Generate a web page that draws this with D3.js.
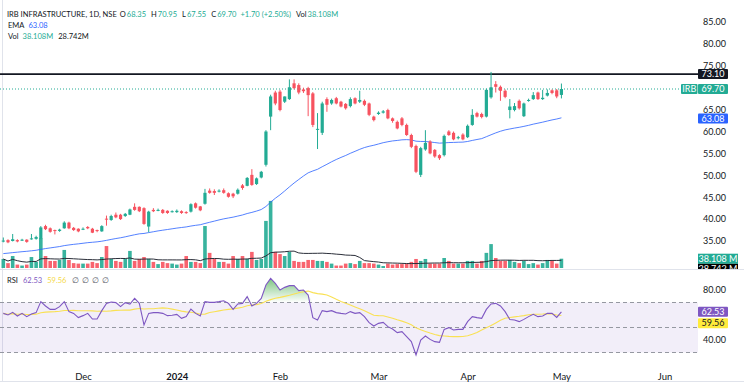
<!DOCTYPE html>
<html><head><meta charset="utf-8">
<script src="https://cdn.jsdelivr.net/npm/d3@7"></script>
<style>body{margin:0;background:#fff;} svg{display:block;font-family:Lato,"Noto Sans",sans-serif;}</style>
</head><body><svg id="c" width="744" height="385"></svg>
<script>
// ---------------- DATA ----------------
const dates = [
"2023-11-07","2023-11-08","2023-11-09","2023-11-10","2023-11-12","2023-11-13","2023-11-15","2023-11-16","2023-11-17","2023-11-20",
"2023-11-21","2023-11-22","2023-11-23","2023-11-24","2023-11-28","2023-11-29","2023-11-30",
"2023-12-01","2023-12-04","2023-12-05","2023-12-06","2023-12-07","2023-12-08","2023-12-11","2023-12-12","2023-12-13","2023-12-14",
"2023-12-15","2023-12-18","2023-12-19","2023-12-20","2023-12-21","2023-12-22","2023-12-26","2023-12-27","2023-12-28","2023-12-29",
"2024-01-01","2024-01-02","2024-01-03","2024-01-04","2024-01-05","2024-01-08","2024-01-09","2024-01-10","2024-01-11","2024-01-12",
"2024-01-15","2024-01-16","2024-01-17","2024-01-18","2024-01-19","2024-01-20","2024-01-23","2024-01-24","2024-01-25","2024-01-29",
"2024-01-30","2024-01-31",
"2024-02-01","2024-02-02","2024-02-05","2024-02-06","2024-02-07","2024-02-08","2024-02-09","2024-02-12","2024-02-13","2024-02-14",
"2024-02-15","2024-02-16","2024-02-19","2024-02-20","2024-02-21","2024-02-22","2024-02-23","2024-02-26","2024-02-27","2024-02-28",
"2024-02-29",
"2024-03-01","2024-03-02","2024-03-04","2024-03-05","2024-03-06","2024-03-07","2024-03-11","2024-03-12","2024-03-13","2024-03-14",
"2024-03-15","2024-03-18","2024-03-19","2024-03-20","2024-03-21","2024-03-22","2024-03-26","2024-03-27","2024-03-28",
"2024-04-01","2024-04-02","2024-04-03","2024-04-04","2024-04-05","2024-04-08","2024-04-09","2024-04-10","2024-04-12","2024-04-15",
"2024-04-16","2024-04-18","2024-04-19","2024-04-22","2024-04-23","2024-04-24","2024-04-25","2024-04-26","2024-04-29","2024-04-30",
"2024-05-02"];

const open = [34.9,35.2,35.0,35.2,35.1,35.3,35.4,35.5,35.6,38.4,37.9,37.5,37.3,37.9,39.2,38.0,37.8,37.7,38.2,37.8,
37.5,37.2,40.1,39.8,41.0,41.0,40.7,41.0,42.8,42.8,42.5,38.3,42.1,42.0,42.1,41.9,41.7,41.6,41.8,41.6,
41.7,43.6,42.9,43.5,46.5,46.4,46.4,46.6,45.9,45.8,45.8,47.7,47.6,50.1,48.0,49.5,52.4,63.4,68.9,69.1,
66.8,67.4,71.0,70.6,69.6,69.9,68.7,60.4,59.7,67.4,66.4,67.6,66.8,66.3,65.8,67.6,66.8,67.0,66.4,63.4,
64.0,64.3,64.9,63.0,62.2,63.0,61.5,59.2,56.7,50.1,55.9,57.7,55.8,54.6,54.6,60.0,59.7,58.5,59.3,58.7,
61.5,64.2,64.0,63.4,67.8,70.8,70.2,69.3,64.9,64.9,67.0,63.5,67.0,67.4,68.9,67.4,68.2,69.4,69.4,68.35];
const high = [35.8,35.4,36.6,35.4,35.5,35.4,36.6,36.2,38.4,38.7,38.1,37.6,37.8,39.5,39.4,38.2,37.9,38.1,38.4,38.0,
37.6,38.6,40.8,41.0,41.5,41.2,41.4,42.4,43.6,42.9,42.7,41.9,42.5,42.4,42.3,42.0,42.0,42.2,42.0,41.8,
43.6,43.8,43.0,46.9,47.0,46.8,46.8,47.0,46.1,46.0,47.0,48.0,49.6,51.4,49.5,51.0,60.3,68.4,69.3,69.5,
68.0,71.9,71.9,71.0,70.0,70.2,69.0,64.2,66.8,67.8,67.5,67.9,67.0,66.5,67.8,67.8,69.3,67.3,66.6,63.6,
64.6,64.9,65.2,63.2,62.5,63.3,61.8,59.5,57.0,56.5,60.3,58.0,56.0,54.8,59.3,60.3,60.0,59.0,59.6,61.6,
65.1,64.5,64.3,69.8,73.6,71.5,70.5,69.6,67.4,66.5,67.3,66.6,67.5,69.0,69.1,69.5,69.6,69.6,69.7,70.95];
const low = [34.7,34.5,34.9,34.7,35.0,34.6,35.3,35.3,35.4,37.5,36.9,36.5,37.1,37.8,37.7,37.3,37.0,37.5,37.7,36.8,
37.0,37.1,38.5,39.6,40.2,39.8,40.5,40.9,41.9,41.6,38.7,37.0,41.6,41.8,41.2,41.2,41.5,41.4,41.2,41.2,
41.5,42.4,41.8,43.3,45.8,45.5,46.1,45.8,44.9,44.8,45.6,46.7,47.5,47.6,47.8,49.3,52.0,60.3,66.0,64.6,
66.5,67.2,69.6,68.5,68.8,63.5,61.0,56.0,59.2,64.5,66.1,66.2,65.5,65.0,65.5,66.2,66.5,65.8,63.5,62.3,
63.8,64.1,62.8,62.0,60.5,61.2,59.0,56.2,50.5,49.6,55.6,54.8,54.0,53.5,54.3,59.0,58.0,58.2,58.0,58.5,
61.3,63.2,63.0,63.2,67.5,68.9,67.0,67.6,63.0,64.6,65.0,63.3,66.8,67.2,67.2,67.2,68.0,68.5,67.6,67.55];
const close = [35.1,34.7,35.4,34.9,35.3,34.8,35.6,35.9,38.1,37.7,37.1,37.3,37.6,39.2,37.9,37.5,37.2,37.8,37.9,36.9,
37.3,38.4,39.9,40.7,40.4,40.0,41.2,42.2,42.1,41.8,38.9,41.7,41.8,42.1,41.4,41.4,41.8,41.9,41.4,41.4,
43.4,42.6,42.0,46.0,46.0,46.0,46.5,46.0,45.1,45.2,46.7,47.1,49.4,47.8,49.3,50.8,60.0,68.0,66.4,64.9,
68.0,70.1,69.9,68.9,69.2,68.3,61.5,60.6,66.4,66.1,67.2,66.4,65.7,65.3,67.4,66.4,67.2,66.1,63.8,62.6,
64.3,64.6,63.0,62.4,60.7,61.5,59.2,56.5,50.8,56.2,57.4,55.0,54.3,53.9,59.0,59.2,58.2,58.7,58.2,61.3,
63.8,63.4,63.3,69.5,70.1,70.2,69.3,67.9,65.7,65.8,65.3,66.4,67.2,68.3,67.4,67.7,68.8,68.8,68.0,69.70];
// volume, millions
const volume = [37,20,49,14,10,14,45,25,123,49,29,29,33,74,33,20,18,18,18,25,
20,45,90,37,29,25,37,70,29,37,45,37,25,16,25,20,18,14,18,49,
25,25,20,172,62,37,25,25,18,49,37,49,37,66,33,37,193,275,66,57,
49,66,29,25,25,33,33,29,29,25,18,10,10,18,20,16,29,20,20,18,
14,8,18,14,16,16,18,25,37,29,37,18,18,18,41,29,18,18,18,29,
29,18,29,62,98,41,29,29,33,25,20,29,16,20,14,20,33,29,18,38.108];
const rsi = [61.3,60.0,62.1,59.2,61.3,58.7,60.8,61.9,70.7,67.2,64.5,64.5,66.7,70.7,62.7,61.3,57.9,59.5,61.3,56.8,
56.8,63.5,69.3,70.4,69.9,66.7,69.9,68.8,73.3,69.3,52.0,61.3,61.9,61.9,61.3,59.5,59.8,60.5,57.3,58.7,
64.8,61.3,59.2,70.7,70.1,70.1,70.7,71.4,69.3,64.5,68.8,69.3,74.7,67.2,69.3,73.3,84.0,89.3,85.3,80.0,
82.1,83.5,83.5,79.5,80.0,76.0,57.9,56.0,63.5,62.7,63.5,61.9,61.3,60.8,62.7,61.3,61.9,58.7,53.9,51.2,
53.3,54.1,50.7,48.8,45.9,46.7,42.7,38.7,28.0,40.0,43.2,40.5,38.7,38.1,48.5,49.9,48.0,48.5,48.5,54.7,
58.7,57.9,57.3,64.5,68.8,69.3,67.2,62.7,56.4,56.0,54.7,56.5,58.7,60.5,58.7,59.2,61.3,61.3,58.1,62.53];

const emaSeed = 32.0, emaPeriod = 50, volMaPeriod = 20, rsiMaPeriod = 14;
const emaLastLabel = 63.08;           // value shown by the chart's EMA legend
const hLineLevel = 73.10;
const symbolName = "IRB INFRASTRUCTURE, 1D, NSE";
const volMaLabel = "28.742M";
const priceTicks = [35,40,45,50,55,60,65,75,80,85];
const rsiTicks = [40,80];
const rsiBands = [70,50,30];
const timeTickLabels = ["Dec","2024","Feb","Mar","Apr","May","Jun"];
const timeTickDates = ["2023-12-01","2024-01-01","2024-02-01","2024-03-01","2024-04-01","2024-05-02","2024-06-03"];

// ---------------- DERIVED ----------------
const N = close.length;
const ema = []; { let p = emaSeed, a = 2/(emaPeriod+1); for (let i=0;i<N;i++){ p = a*close[i] + (1-a)*p; ema.push(p);} }
const volMa = volume.map((v,i)=> d3.mean(volume.slice(Math.max(0,i-volMaPeriod+1), i+1)));
const rsiMa = rsi.map((v,i)=> d3.mean(rsi.slice(Math.max(0,i-rsiMaPeriod+1), i+1)));

function idxOf(ds){
  const k = dates.indexOf(ds); if (k>=0) return k;
  let d = new Date(dates[N-1]+"T00:00:00Z"), n = N-1; const t = new Date(ds+"T00:00:00Z");
  while (d < t){ d = new Date(d.getTime()+864e5); const w = d.getUTCDay(); if (w!==0 && w!==6) n++; }
  return n;
}

// ---------------- SCALES ----------------
const x = d3.scaleLinear().domain([0, N-1]).range([3.3, 3.3 + 4.69*(N-1)]);
const yP = d3.scaleLinear().domain([35, 85]).range([241, 22]);
const yV = d3.scaleLinear().domain([0, 100]).range([268, 243.6]);
const yR = d3.scaleLinear().domain([30, 80]).range([352.5, 290]);
const paneR = 698;

const svg = d3.select("#c");
const G = "#22ab94", R = "#f7525f", DARK = "#131722";
const FONT = "Lato,'Noto Sans',sans-serif";

// frame
svg.append("line").attr("x1",0).attr("x2",744).attr("y1",269.5).attr("y2",269.5).attr("stroke","#e0e3eb");
svg.append("line").attr("x1",0).attr("x2",744).attr("y1",381.5).attr("y2",381.5).attr("stroke","#e0e3eb");
svg.append("line").attr("x1",2.5).attr("x2",2.5).attr("y1",0).attr("y2",382).attr("stroke","#e0e3eb");

// ---------------- PRICE PANE ----------------
const pp = svg.append("g");
pp.append("g").selectAll("rect").data(volume).join("rect")
  .attr("x",(d,i)=>x(i)-1.8).attr("width",3.6)
  .attr("y",d=>yV(d)).attr("height",d=>yV(0)-yV(d))
  .attr("fill",(d,i)=> close[i]>=open[i]?G:R).attr("opacity",0.9);
pp.append("path").datum(volMa).attr("fill","none").attr("stroke","#2a2e39").attr("stroke-width",1)
  .attr("d", d3.line().x((d,i)=>x(i)).y(d=>yV(d)));
pp.append("line").attr("x1",0).attr("x2",paneR).attr("y1",yP(hLineLevel)).attr("y2",yP(hLineLevel))
  .attr("stroke",DARK).attr("stroke-width",1.6);
pp.append("line").attr("x1",0).attr("x2",paneR).attr("y1",yP(close[N-1])).attr("y2",yP(close[N-1]))
  .attr("stroke",G).attr("stroke-width",1).attr("stroke-dasharray","1,2");
pp.append("path").datum(ema).attr("fill","none").attr("stroke","#2962ff").attr("stroke-width",1).attr("opacity",0.8)
  .attr("d", d3.line().x((d,i)=>x(i)).y(d=>yP(d)));
const cg = pp.append("g").selectAll("g").data(close).join("g");
cg.append("line").attr("x1",(d,i)=>x(i)).attr("x2",(d,i)=>x(i))
  .attr("y1",(d,i)=>yP(high[i])).attr("y2",(d,i)=>yP(low[i]))
  .attr("stroke",(d,i)=> close[i]>=open[i]?G:R).attr("stroke-width",1);
cg.append("rect").attr("x",(d,i)=>x(i)-1.6).attr("width",3.2)
  .attr("y",(d,i)=>yP(Math.max(open[i],close[i])))
  .attr("height",(d,i)=>Math.max(1,Math.abs(yP(open[i])-yP(close[i]))))
  .attr("fill",(d,i)=> close[i]>=open[i]?G:R);

const pax = svg.append("g").attr("transform",`translate(700,0)`)
  .call(d3.axisRight(yP).tickValues(priceTicks).tickFormat(d3.format(".2f")).tickSize(0).tickPadding(3));
pax.select(".domain").remove();
pax.selectAll("text").attr("fill",DARK).attr("font-size",9).attr("font-family",FONT);

function tag(x0, w, yc, fill, txt, color){
  svg.append("rect").attr("x",x0).attr("y",yc-5).attr("width",w).attr("height",10).attr("rx",1).attr("fill",fill);
  svg.append("text").attr("x",x0+w/2).attr("y",yc).attr("dy","0.35em").attr("text-anchor","middle")
    .attr("font-size",9).attr("fill",color).text(txt);
}
const f2 = d3.format(".2f");
tag(698, 30, yP(hLineLevel), DARK, f2(hLineLevel), "#fff");
tag(681, 16.5, yP(close[N-1]), G, "IRB", "#fff");
tag(698, 30, yP(close[N-1]), G, f2(close[N-1]), "#fff");
tag(698, 30, yP(emaLastLabel)+0.6, "#2962ff", f2(emaLastLabel), "#fff");
svg.append("clipPath").attr("id","vc").append("rect").attr("x",690).attr("y",240).attr("width",54).attr("height",29);
const vt = svg.append("g").attr("clip-path","url(#vc)");
vt.append("rect").attr("x",698).attr("y",263.5).attr("width",40).attr("height",10).attr("fill","#000");
vt.append("text").attr("x",718).attr("y",268.5).attr("dy","0.35em").attr("text-anchor","middle").attr("font-size",9).attr("fill","#fff").text("28.742 M");
vt.append("rect").attr("x",698).attr("y",yV(volume[N-1])-5).attr("width",40).attr("height",10).attr("fill",G);
vt.append("text").attr("x",718).attr("y",yV(volume[N-1])).attr("dy","0.35em").attr("text-anchor","middle").attr("font-size",9).attr("fill","#fff").text("38.108 M");

// ---------------- RSI PANE ----------------
const rp = svg.append("g");
rp.append("rect").attr("x",0).attr("width",paneR).attr("y",yR(70)).attr("height",yR(30)-yR(70)).attr("fill","rgba(126,87,194,0.1)");
rp.selectAll("line.b").data(rsiBands).join("line").attr("class","b")
  .attr("x1",0).attr("x2",paneR).attr("y1",d=>yR(d)).attr("y2",d=>yR(d))
  .attr("stroke","#9598a1").attr("stroke-width",1).attr("stroke-dasharray","4,3");
const defs = svg.append("defs");
const gg = defs.append("linearGradient").attr("id","gUp").attr("x1",0).attr("x2",0).attr("y1",yR(90)).attr("y2",yR(70)).attr("gradientUnits","userSpaceOnUse");
gg.append("stop").attr("offset",0).attr("stop-color","rgba(76,175,80,0.75)");
gg.append("stop").attr("offset",1).attr("stop-color","rgba(76,175,80,0)");
const gr = defs.append("linearGradient").attr("id","gDn").attr("x1",0).attr("x2",0).attr("y1",yR(30)).attr("y2",yR(10)).attr("gradientUnits","userSpaceOnUse");
gr.append("stop").attr("offset",0).attr("stop-color","rgba(242,54,69,0)");
gr.append("stop").attr("offset",1).attr("stop-color","rgba(242,54,69,0.75)");
rp.append("path").datum(rsi).attr("fill","url(#gUp)")
  .attr("d", d3.area().x((d,i)=>x(i)).y0(yR(70)).y1(d=>yR(Math.max(d,70))));
rp.append("path").datum(rsi).attr("fill","url(#gDn)")
  .attr("d", d3.area().x((d,i)=>x(i)).y0(yR(30)).y1(d=>yR(Math.min(d,30))));
rp.append("path").datum(rsiMa).attr("fill","none").attr("stroke","#f9e154").attr("stroke-width",1.1)
  .attr("d", d3.line().x((d,i)=>x(i)).y(d=>yR(d)));
rp.append("path").datum(rsi).attr("fill","none").attr("stroke","#7e57c2").attr("stroke-width",1.1)
  .attr("d", d3.line().x((d,i)=>x(i)).y(d=>yR(d)));
const rax = svg.append("g").attr("transform",`translate(700,0)`)
  .call(d3.axisRight(yR).tickValues(rsiTicks).tickFormat(d3.format(".2f")).tickSize(0).tickPadding(3));
rax.select(".domain").remove();
rax.selectAll("text").attr("fill",DARK).attr("font-size",9).attr("font-family",FONT);
tag(698, 30, yR(rsi[N-1]), "#7e57c2", f2(rsi[N-1]), "#fff");
tag(698, 30, yR(rsi[N-1])+11.5, "#ffeb3b", f2(rsiMa[N-1]), DARK);

// ---------------- TIME AXIS ----------------
const tax = svg.append("g").attr("transform","translate(0,366)")
  .call(d3.axisBottom(x).tickValues(timeTickDates.map(idxOf)).tickFormat((d,k)=>timeTickLabels[k]).tickSize(0).tickPadding(7));
tax.select(".domain").remove();
tax.selectAll("text").attr("fill",DARK).attr("font-size",9.5).attr("font-family",FONT)
  .attr("font-weight",(d,k)=> timeTickLabels[k]==="2024"?"bold":"normal");

// ---------------- LEGENDS ----------------
const probe = svg.append("text").attr("font-size",10).attr("font-family",FONT).text(symbolName);
const LS = Math.min(9.5, 10*110/probe.node().getComputedTextLength());
probe.remove();
function flow(x0, yy, items){
  let cx = x0;
  items.forEach(([s, color, gap, size])=>{
    cx += gap||0;
    const t = svg.append("text").attr("x",cx).attr("y",yy).attr("font-size",size||LS).attr("font-family",FONT).attr("fill",color).text(s);
    cx += t.node().getComputedTextLength();
  });
}
const last = N-1, chg = close[last]-close[last-1];
flow(7, 17.3, [[symbolName,DARK],["O",DARK,3],[f2(open[last]),G,1],["H",DARK,5],[f2(high[last]),G,1],
  ["L",DARK,5],[f2(low[last]),G,1],["C",DARK,5],[f2(close[last]),G,1],
  [`+${f2(chg)} (+${f2(chg/close[last-1]*100)}%)`,G,4],["Vol",DARK,5],[d3.format(".3f")(volume[last])+"M",G,1]]);
flow(8, 28.3, [["EMA",DARK],[f2(emaLastLabel),"#2962ff",4]]);
flow(8, 39.3, [["Vol",DARK],[d3.format(".3f")(volume[last])+"M",G,4],[volMaLabel,DARK,5]]);
flow(7, 282.7, [["RSI",DARK],[f2(rsi[last]),"#7e57c2",5],[f2(rsiMa[last]),"#f5d94a",5],
  ["∅","#50535e",6],["∅","#50535e",3],["∅","#50535e",3],["∅","#50535e",3]]);
</script></body></html>
